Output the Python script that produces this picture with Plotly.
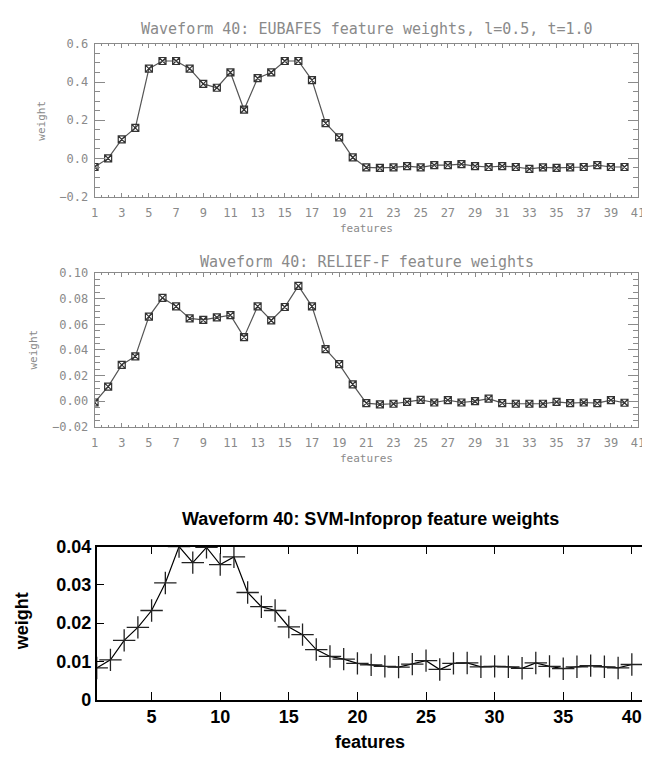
import plotly.graph_objects as go

features = list(range(1, 41))

eubafes_weights = [-0.045, 0.0, 0.10, 0.16, 0.47, 0.51, 0.51, 0.47, 0.39, 0.37,
                   0.45, 0.255, 0.42, 0.45, 0.51, 0.51, 0.41, 0.185, 0.11, 0.005,
                   -0.047, -0.05, -0.047, -0.04, -0.047, -0.035, -0.035, -0.03, -0.04, -0.045,
                   -0.04, -0.045, -0.055, -0.047, -0.05, -0.047, -0.045, -0.035, -0.045, -0.045]

relief_weights = [-0.001, 0.0114, 0.0284, 0.035, 0.066, 0.0806, 0.074, 0.0646, 0.0634, 0.0654,
                  0.0672, 0.050, 0.074, 0.063, 0.0735, 0.090, 0.074, 0.0406, 0.0289, 0.0132,
                  -0.0015, -0.0025, -0.002, -0.0005, 0.001, -0.001, 0.0008, -0.001, 0.0, 0.002,
                  -0.0015, -0.002, -0.002, -0.002, -0.0005, -0.0015, -0.001, -0.0015, 0.0008, -0.0012]

svm_weights = [0.0083, 0.0104, 0.0155, 0.0189, 0.0233, 0.0305, 0.0400, 0.0358, 0.0398, 0.0353,
               0.0373, 0.0280, 0.0243, 0.0233, 0.0190, 0.0170, 0.0131, 0.0113, 0.0106, 0.0095,
               0.0091, 0.0087, 0.0085, 0.0093, 0.0102, 0.0079, 0.0095, 0.0096, 0.0086, 0.0087,
               0.0086, 0.0082, 0.0096, 0.0087, 0.0081, 0.0086, 0.0089, 0.0086, 0.0083, 0.0092]

# page body has an 8px margin, so the figure is sized to fit the window from (8, 8)
OFF = 8
W, H = 650 - OFF, 761 - OFF
def px(x):
    return (x - OFF) / W
def py(y):
    return 1 - (y - OFF) / H

IDL_GRAY = "#8a8a8a"
IDL_FONT = dict(family="DejaVu Sans Mono", size=12, color=IDL_GRAY)
GNU_FONT = dict(family="Liberation Sans", size=18, color="black", weight="bold")

fig = go.Figure()

fig.add_trace(go.Scatter(x=features, y=eubafes_weights, xaxis="x", yaxis="y",
                         mode="lines+markers",
                         line=dict(color="#555", width=1.2),
                         marker=dict(symbol="square-x-open", size=7, color="#333", line=dict(width=1.2)),
                         showlegend=False))
fig.add_trace(go.Scatter(x=features, y=relief_weights, xaxis="x2", yaxis="y2",
                         mode="lines+markers",
                         line=dict(color="#555", width=1.2),
                         marker=dict(symbol="square-x-open", size=7, color="#333", line=dict(width=1.2)),
                         showlegend=False))
fig.add_trace(go.Scatter(x=features, y=svm_weights, xaxis="x3", yaxis="y3",
                         mode="lines+markers",
                         line=dict(color="black", width=1.2),
                         marker=dict(symbol="cross-thin-open", size=16, color="#222", line=dict(width=1.3)),
                         showlegend=False))

x_idl_dom = [px(92), px(645)]

def idl_x(anchor):
    return dict(domain=x_idl_dom, anchor=anchor, range=[1, 41], tick0=1, dtick=2,
                ticks="inside", ticklen=4, tickcolor=IDL_GRAY, tickwidth=1,
                minor=dict(dtick=0.5, ticks="inside", ticklen=2, tickcolor=IDL_GRAY),
                showline=True, linecolor=IDL_GRAY, linewidth=1, mirror="allticks",
                showgrid=False, zeroline=False, tickfont=IDL_FONT,
                ticklabelstandoff=5, ticklabeloverflow="allow")

def idl_y(anchor, dom, rng, dt, mdt, fmt):
    return dict(domain=dom, anchor=anchor, range=rng, dtick=dt, tick0=0,
                ticks="inside", ticklen=10, tickcolor=IDL_GRAY, tickwidth=1,
                minor=dict(dtick=mdt, ticks="inside", ticklen=5, tickcolor=IDL_GRAY),
                showline=True, linecolor=IDL_GRAY, linewidth=1, mirror="allticks",
                showgrid=False, zeroline=False, tickfont=IDL_FONT, tickformat=fmt,
                ticklabelstandoff=3)

fig.update_layout(
    width=W, height=H, margin=dict(l=0, r=0, t=0, b=0),
    paper_bgcolor="white", plot_bgcolor="white",
    xaxis=idl_x("y"),
    yaxis=idl_y("x", [py(191.5), py(34.5)], [-0.2, 0.6], 0.2, 0.05, ".1f"),
    xaxis2=idl_x("y2"),
    yaxis2=idl_y("x2", [py(428), py(270)], [-0.02, 0.10], 0.02, 0.005, ".2f"),
    xaxis3=dict(domain=[px(94.2), 1.0], anchor="y3", range=[1, 1 + (650 - 94.2) / 13.96],
                tick0=0, dtick=5, ticks="inside", ticklen=8, tickcolor="black", tickwidth=1.3,
                showline=True, linecolor="black", linewidth=1.5, mirror="ticks",
                showgrid=False, zeroline=False, tickfont=GNU_FONT, ticklabeloverflow="allow"),
    yaxis3=dict(domain=[py(708.3), py(551)], anchor="x3", range=[0, 0.04], dtick=0.01,
                ticks="inside", ticklen=8, tickcolor="black", tickwidth=1.3,
                showline=True, linecolor="black", linewidth=1.5, mirror=False,
                showgrid=False, zeroline=False, tickfont=GNU_FONT),
    yaxis4=dict(overlaying="y3", anchor="x3", side="right", range=[0, 0.04], dtick=0.01,
                ticks="inside", ticklen=6, tickcolor="black", tickwidth=1.3,
                showline=False, showticklabels=False, showgrid=False, zeroline=False),
)

ann = []
ann.append(dict(text="Waveform 40: EUBAFES feature weights, l=0.5, t=1.0", x=px(369), y=py(19),
                font=dict(family="DejaVu Sans Mono", size=15, color=IDL_GRAY)))
ann.append(dict(text="weight", x=px(38), y=py(113), textangle=-90, font=dict(family="DejaVu Sans Mono", size=11, color=IDL_GRAY)))
ann.append(dict(text="features", x=px(369), y=py(224), font=dict(family="DejaVu Sans Mono", size=11, color=IDL_GRAY)))
ann.append(dict(text="Waveform 40: RELIEF-F feature weights", x=px(369), y=py(259),
                font=dict(family="DejaVu Sans Mono", size=15, color=IDL_GRAY)))
ann.append(dict(text="weight", x=px(30), y=py(349), textangle=-90, font=dict(family="DejaVu Sans Mono", size=11, color=IDL_GRAY)))
ann.append(dict(text="features", x=px(369), y=py(461), font=dict(family="DejaVu Sans Mono", size=11, color=IDL_GRAY)))
ann.append(dict(text="Waveform 40: SVM-Infoprop feature weights", x=px(373), y=py(523),
                font=dict(family="Liberation Sans", size=18, color="black", weight="bold")))
ann.append(dict(text="weight", x=px(18), y=py(628), textangle=-90, font=GNU_FONT))
ann.append(dict(text="features", x=px(372), y=py(752), font=GNU_FONT))
for a in ann:
    a.update(xref="paper", yref="paper", showarrow=False, xanchor="center", yanchor="middle")
fig.update_layout(annotations=ann)

fig.write_html("out.html")
